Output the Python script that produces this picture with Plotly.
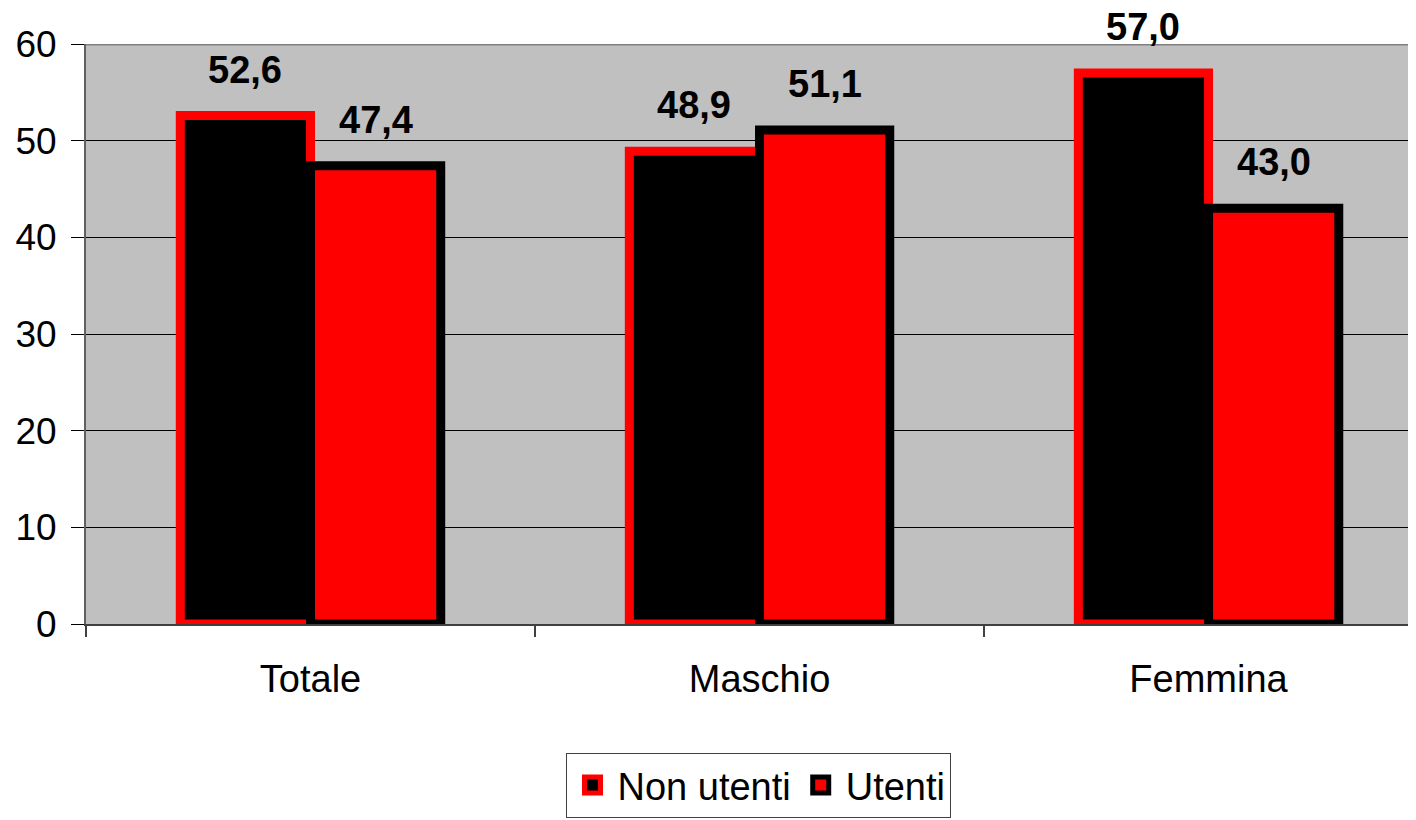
import plotly.graph_objects as go

categories = ["Totale", "Maschio", "Femmina"]
non_utenti = [52.6, 48.9, 57.0]
utenti = [47.4, 51.1, 43.0]
y_ticks = [0, 10, 20, 30, 40, 50, 60]

FONT = "Liberation Sans, Arial, sans-serif"

def fmt(v):
    return f"{v:.1f}".replace(".", ",")

fig = go.Figure()
fig.add_trace(go.Bar(
    name="Non utenti", x=categories, y=non_utenti, showlegend=False,
    marker=dict(color="#000000", line=dict(color="#FF0000", width=9)),
))
fig.add_trace(go.Bar(
    name="Utenti", x=categories, y=utenti, showlegend=False,
    marker=dict(color="#FF0000", line=dict(color="#000000", width=9)),
))
# legend entries (no data drawn)
fig.add_trace(go.Scatter(
    name="Non utenti", x=[None], y=[None], mode="markers",
    marker=dict(symbol="square", size=16, color="#000000",
                line=dict(color="#FF0000", width=5)),
))
fig.add_trace(go.Scatter(
    name="Utenti", x=[None], y=[None], mode="markers",
    marker=dict(symbol="square", size=16, color="#FF0000",
                line=dict(color="#000000", width=5)),
))

# value labels
for i, c in enumerate(categories):
    for off, vals in ((-0.5, non_utenti), (0.5, utenti)):
        fig.add_annotation(
            x=i + off * 0.29, y=vals[i], xref="x", yref="y",
            text=f"<b>{fmt(vals[i])}</b>", showarrow=False,
            yanchor="bottom", yshift=23,
            font=dict(family=FONT, size=38, color="#000000"),
        )

# top border of plot area
fig.add_shape(type="line", xref="paper", yref="y", x0=0, x1=1, y0=60, y1=60,
              line=dict(color="#808080", width=3), layer="above")

fig.update_layout(
    width=1408, height=812,
    margin=dict(l=78, r=0, t=36, b=196),
    paper_bgcolor="#FFFFFF", plot_bgcolor="#C0C0C0",
    barmode="group", bargap=0.42, bargroupgap=0,
    font=dict(family=FONT, size=37, color="#000000"),
    showlegend=True,
    legend=dict(
        orientation="h", x=0.506, xanchor="center", y=-0.222, yanchor="top",
        font=dict(family=FONT, size=38, color="#000000"),
        bordercolor="#404040", borderwidth=1, bgcolor="#FFFFFF",
        itemsizing="trace", traceorder="normal", itemwidth=40,
    ),
    xaxis=dict(
        type="category", range=[-0.5, 2.462],
        tickson="boundaries", ticks="outside", ticklen=11, tickwidth=2,
        tickcolor="#404040",
        showline=True, linecolor="#404040", linewidth=2,
        showgrid=False, ticklabelstandoff=20,
        tickfont=dict(family=FONT, size=38),
    ),
    yaxis=dict(
        range=[0, 60], tickvals=y_ticks, ticktext=[str(v) for v in y_ticks],
        ticks="outside", ticklen=13, tickwidth=1, tickcolor="#000000",
        showline=True, linecolor="#606060", linewidth=2,
        showgrid=True, gridcolor="#000000", gridwidth=1,
        zeroline=False, ticklabelstandoff=7,
        tickfont=dict(family=FONT, size=37),
    ),
)

fig.write_html("out.html")
